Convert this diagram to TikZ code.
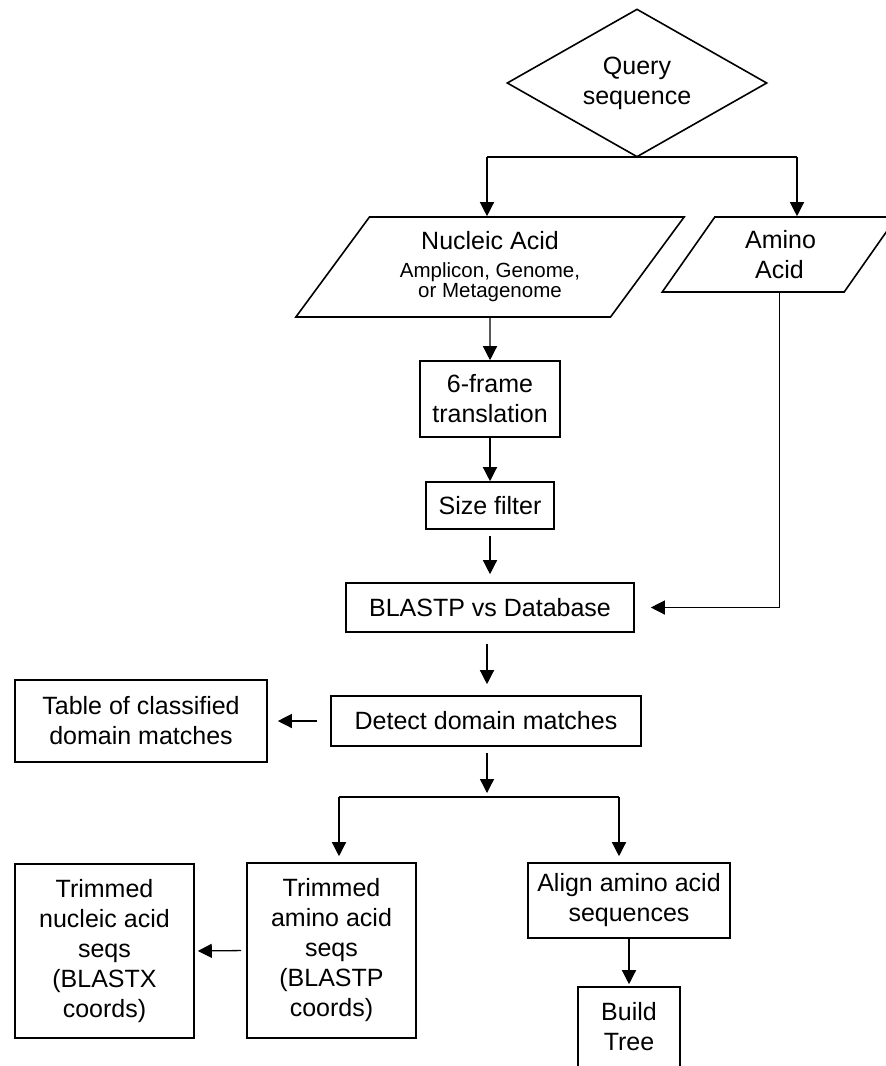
\documentclass[tikz,border=0pt]{standalone}
\usepackage{fontspec}
\setmainfont{Liberation Sans}
\usetikzlibrary{shapes.geometric,arrows.meta}
\begin{document}
\begin{tikzpicture}[x=1pt,y=-1pt,
  box/.style={draw, line width=1.6pt, inner sep=0pt, align=center,
    font=\fontsize{25}{30}\selectfont},
  para/.style={box, trapezium, trapezium stretches=true},
  arr/.style={line width=1.3pt, -{Triangle[width=14pt,length=14pt]}},
  ln/.style={line width=1.3pt}]
\useasboundingbox (0,0) rectangle (886,1066);
\clip (0,0) rectangle (886,1066);

% nodes
\node[box, diamond, shape aspect=1.76, minimum width=260pt, minimum height=148pt] (query) at (637,83)
  {Query\\sequence};
\node[para, trapezium left angle=52, trapezium right angle=128,
  minimum width=390pt, minimum height=100pt,
  font=\fontsize{20.5}{20}\selectfont] (nucleic) at (490,267)
  {{\fontsize{25}{25}\selectfont Nucleic Acid}\\[8pt]Amplicon, Genome,\\or Metagenome};
\node[para, trapezium left angle=58.5, trapezium right angle=121.5,
  minimum width=235pt, minimum height=75pt] (amino) at (779.5,254.5)
  {\hspace*{2pt}Amino\\Acid};
\node[box, minimum width=140pt, minimum height=76pt] (frame) at (490,399)
  {6-frame\\translation};
\node[box, minimum width=128pt, minimum height=47pt] (size) at (490,505.5)
  {Size filter};
\node[box, minimum width=288pt, minimum height=49pt] (blastp) at (490,607.5)
  {BLASTP vs Database};
\node[box, minimum width=310pt, minimum height=50pt] (detect) at (486,721)
  {Detect domain matches};
\node[box, minimum width=252pt, minimum height=82pt] (table) at (141,721)
  {Table of classified\\domain matches};
\node[box, minimum width=169pt, minimum height=175pt] (trima) at (331.5,950.5)
  {Trimmed\\amino acid\\seqs\\(BLASTP\\coords)};
\node[box, minimum width=179pt, minimum height=174pt] (trimn) at (104.5,951)
  {Trimmed\\nucleic acid\\seqs\\(BLASTX\\coords)};
\node[box, minimum width=202pt, minimum height=75pt] (align) at (629,900.5)
  {Align amino acid\\sequences};
\node[box, minimum width=102pt, minimum height=80pt] (build) at (629,1027)
  {Build\\Tree};

% split coordinates
\coordinate (qL) at (487,157);
\coordinate (qR) at (797,157);
\coordinate (dsplit) at (487,797);
\coordinate (bL) at (339,797);
\coordinate (bR) at (619,797);

% connectors
\draw[ln] (qL) -- (qR);
\draw[arr] (qL) -- (qL |- nucleic.north);
\draw[arr] (qR) -- (qR |- amino.north);
\draw[arr] (nucleic.south) -- (frame.north);
\draw[arr] (frame.south) -- (size.north);
\draw[arr, shorten <=6pt, shorten >=8pt] (size.south) -- (blastp.north);
\draw[arr, shorten >=16pt] (amino.south) |- (blastp.east);
\draw[arr, shorten <=11pt, shorten >=11pt] (blastp.south -| dsplit) -- (dsplit |- detect.north);
\draw[arr, shorten <=13pt, shorten >=10pt] (detect.west) -- (table.east);
\draw[arr, shorten <=6pt, shorten >=4pt] (dsplit |- detect.south) -- (dsplit);
\draw[ln] (bL) -- (bR);
\draw[arr, shorten >=6pt] (bL) -- (bL |- trima.north);
\draw[arr, shorten >=6pt] (bR) -- (bR |- align.north);
\draw[arr, shorten <=5pt, shorten >=3pt] (trima.west) -- (trimn.east);
\draw[arr, shorten >=2pt] (align.south) -- (build.north);
\end{tikzpicture}
\end{document}
